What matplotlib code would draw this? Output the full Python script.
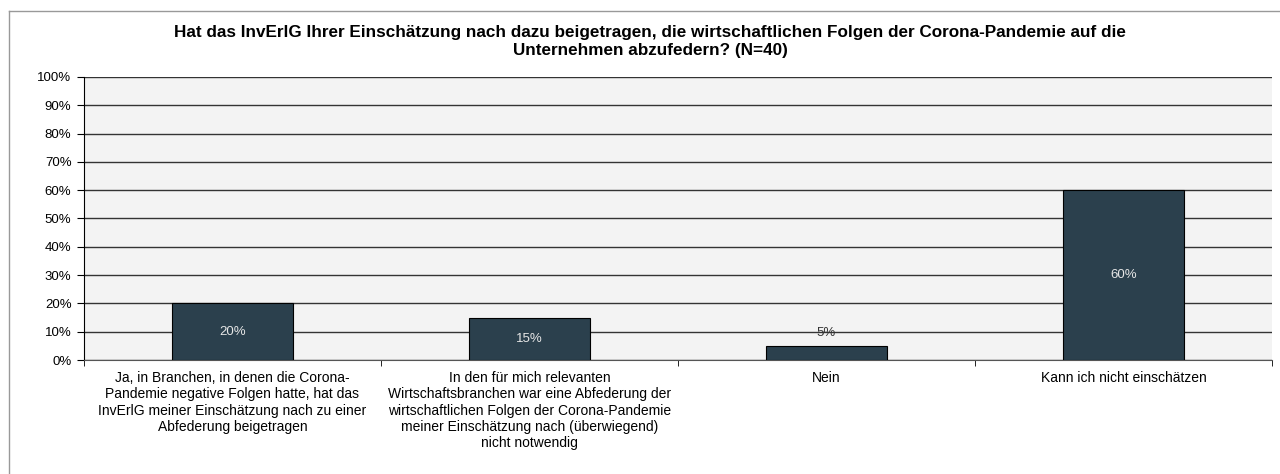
import matplotlib.pyplot as plt
from matplotlib.lines import Line2D
import numpy as np

plt.rcParams["font.family"] = ["Liberation Sans", "DejaVu Sans"]

categories = [
    "Ja, in Branchen, in denen die Corona-\nPandemie negative Folgen hatte, hat das\nInvErlG meiner Einschätzung nach zu einer\nAbfederung beigetragen",
    "In den für mich relevanten\nWirtschaftsbranchen war eine Abfederung der\nwirtschaftlichen Folgen der Corona-Pandemie\nmeiner Einschätzung nach (überwiegend)\nnicht notwendig",
    "Nein",
    "Kann ich nicht einschätzen",
]
values = [20, 15, 5, 60]
value_labels = ["20%", "15%", "5%", "60%"]
y_ticks = list(range(0, 101, 10))

bar_color = "#2b404d"

fig = plt.figure(figsize=(12.8, 4.74), dpi=100)
ax = fig.add_axes([0.0656, 0.2405, 0.9281, 0.5971])

x = np.arange(len(categories))
ax.set_facecolor("#f3f3f3")
ax.set_axisbelow(True)
ax.yaxis.grid(True, color="#333333", linewidth=1.0)
bars = ax.bar(x, values, width=0.405, color=bar_color, edgecolor="black", linewidth=0.8, zorder=3)

for b, v, lab in zip(bars, values, value_labels):
    cx = b.get_x() + b.get_width() / 2
    if v >= 10:
        ax.text(cx, v / 2, lab, ha="center", va="center", color="#e6e6e6", fontsize=9.5, zorder=4)
    else:
        ax.text(cx, v + 2.5, lab, ha="center", va="bottom", color="#333333", fontsize=9.5, zorder=4)

ax.set_xlim(-0.5, len(categories) - 0.5)
ax.set_ylim(0, 100)
ax.set_yticks(y_ticks)
ax.set_yticklabels([f"{t}%" for t in y_ticks], fontsize=9.5)
ax.set_xticks(x)
ax.set_xticklabels(categories, fontsize=10, va="top", linespacing=1.2)
ax.tick_params(axis="x", length=0, pad=8)
ax.set_xticks(np.arange(-0.5, len(categories), 1), minor=True)
ax.tick_params(axis="x", which="minor", length=4, color="black")
ax.tick_params(axis="y", length=5, color="black", pad=4)

for s in ["top", "right"]:
    ax.spines[s].set_visible(False)
ax.spines["left"].set_color("black")
ax.spines["bottom"].set_color("#555555")

fig.text(0.508, 0.913,
         "Hat das InvErlG Ihrer Einschätzung nach dazu beigetragen, die wirtschaftlichen Folgen der Corona-Pandemie auf die\nUnternehmen abzufedern? (N=40)",
         ha="center", va="center", fontsize=12.3, fontweight="bold", linespacing=1.25)

# outer frame (top and left visible)
fig.add_artist(Line2D([9 / 1280, 1.0], [1 - 11 / 474, 1 - 11 / 474], transform=fig.transFigure, color="#999999", linewidth=1))
fig.add_artist(Line2D([9 / 1280, 9 / 1280], [0, 1 - 11 / 474], transform=fig.transFigure, color="#999999", linewidth=1))

fig.savefig("out.png", dpi=100)
